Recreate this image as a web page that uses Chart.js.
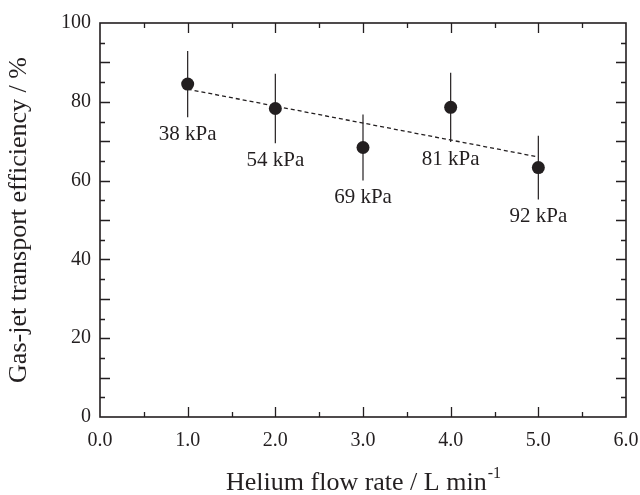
<!DOCTYPE html>
<html>
<head>
<meta charset="utf-8">
<script src="https://cdn.jsdelivr.net/npm/chart.js@4.4.0/dist/chart.umd.min.js"></script>
<style>
  html, body { margin: 0; padding: 0; background: #fff; }
  #wrap { width: 640px; height: 495px; }
</style>
</head>
<body>
<div id="wrap"><canvas id="chart" width="640" height="495"></canvas></div>
<script>
// data
const flowRates = [1.0, 2.0, 3.0, 4.0, 5.0];
const efficiency = [84.5, 78.3, 68.4, 78.6, 63.3];
const errors = [8.4, 8.8, 8.4, 8.8, 8.1];
const pressures = ['38 kPa', '54 kPa', '69 kPa', '81 kPa', '92 kPa'];
const trendX = [1.0, 5.0];
const trendY = [83.2, 66.0];

const ink = '#231f20';
const serif = "'Liberation Serif', 'Times New Roman', serif";

const framePlugin = {
    id: 'frame',
    beforeDatasetsDraw(chart) {
        const ctx = chart.ctx;
        const xs = chart.scales.x, ys = chart.scales.y;
        const a = chart.chartArea;
        ctx.save();
        ctx.strokeStyle = ink;

        // error bars
        ctx.lineWidth = 1.2;
        flowRates.forEach((x, i) => {
            const px = xs.getPixelForValue(x);
            ctx.beginPath();
            ctx.moveTo(px, ys.getPixelForValue(efficiency[i] + errors[i]));
            ctx.lineTo(px, ys.getPixelForValue(efficiency[i] - errors[i]));
            ctx.stroke();
        });

        // inner ticks on all four sides
        ctx.lineWidth = 1.3;
        for (let v = 0.5; v < 6; v += 0.5) {
            const px = Math.round(xs.getPixelForValue(v)) + 0.5;
            const len = (v % 1 === 0) ? 10 : 5;
            ctx.beginPath();
            ctx.moveTo(px, a.bottom); ctx.lineTo(px, a.bottom - len);
            ctx.moveTo(px, a.top); ctx.lineTo(px, a.top + len);
            ctx.stroke();
        }
        for (let v = 5; v < 100; v += 5) {
            const py = Math.round(ys.getPixelForValue(v)) + 0.5;
            const len = (v % 10 === 0) ? 10 : 5;
            ctx.beginPath();
            ctx.moveTo(a.left, py); ctx.lineTo(a.left + len, py);
            ctx.moveTo(a.right, py); ctx.lineTo(a.right - len, py);
            ctx.stroke();
        }

        // box
        ctx.lineWidth = 1.6;
        ctx.strokeRect(a.left, a.top, a.right - a.left, a.bottom - a.top);
        ctx.restore();
    },
    afterDraw(chart) {
        const ctx = chart.ctx;
        const xs = chart.scales.x, ys = chart.scales.y;
        const a = chart.chartArea;
        ctx.save();
        ctx.fillStyle = ink;

        // pressure labels under each error bar
        ctx.font = '21px ' + serif;
        ctx.textAlign = 'center';
        ctx.textBaseline = 'middle';
        flowRates.forEach((x, i) => {
            const px = xs.getPixelForValue(x);
            const py = ys.getPixelForValue(efficiency[i] - errors[i]) + 17;
            ctx.fillText(pressures[i], px, py);
        });

        // x axis title with superscript
        const main = 'Helium flow rate / L min';
        const sup = '-1';
        ctx.font = '26px ' + serif;
        const w1 = ctx.measureText(main).width;
        ctx.font = '16px ' + serif;
        const w2 = ctx.measureText(sup).width;
        const cx = (a.left + a.right) / 2;
        const x0 = cx - (w1 + w2) / 2;
        ctx.textAlign = 'left';
        ctx.textBaseline = 'alphabetic';
        ctx.font = '26px ' + serif;
        ctx.fillText(main, x0, 490);
        ctx.font = '16px ' + serif;
        ctx.fillText(sup, x0 + w1 + 1, 478);
        ctx.restore();
    }
};

new Chart(document.getElementById('chart'), {
    type: 'scatter',
    data: {
        datasets: [
            {
                label: 'efficiency',
                data: flowRates.map((x, i) => ({ x: x, y: efficiency[i] })),
                pointRadius: 6.5,
                pointBackgroundColor: ink,
                pointBorderColor: ink,
                pointBorderWidth: 0,
                showLine: false,
                order: 1
            },
            {
                label: 'trend',
                data: trendX.map((x, i) => ({ x: x, y: trendY[i] })),
                showLine: true,
                borderColor: ink,
                borderWidth: 1.3,
                borderDash: [4, 3],
                pointRadius: 0,
                order: 2
            }
        ]
    },
    options: {
        responsive: false,
        animation: false,
        layout: { padding: { top: 23, right: 14, left: 0, bottom: 0 } },
        plugins: {
            legend: { display: false },
            tooltip: { enabled: false }
        },
        scales: {
            x: {
                type: 'linear',
                min: 0,
                max: 6,
                grid: { display: false, drawTicks: false },
                border: { display: false },
                ticks: {
                    stepSize: 1,
                    padding: 12,
                    color: ink,
                    font: { family: serif, size: 20 },
                    callback: v => Number(v).toFixed(1)
                },
                afterFit: s => {
                    s.height = 78;
                    s.paddingLeft = 0;
                    s.paddingRight = 0;
                }
            },
            y: {
                type: 'linear',
                min: 0,
                max: 100,
                grid: { display: false, drawTicks: false },
                border: { display: false },
                ticks: {
                    stepSize: 20,
                    padding: 9,
                    color: ink,
                    font: { family: serif, size: 20 }
                },
                title: {
                    display: true,
                    text: 'Gas-jet transport efficiency / %',
                    color: ink,
                    font: { family: serif, size: 26 },
                    padding: { top: 4, bottom: 0 }
                },
                afterFit: s => {
                    s.width = 100;
                    s.paddingTop = 0;
                    s.paddingBottom = 0;
                }
            }
        }
    },
    plugins: [framePlugin]
});
</script>
</body>
</html>
